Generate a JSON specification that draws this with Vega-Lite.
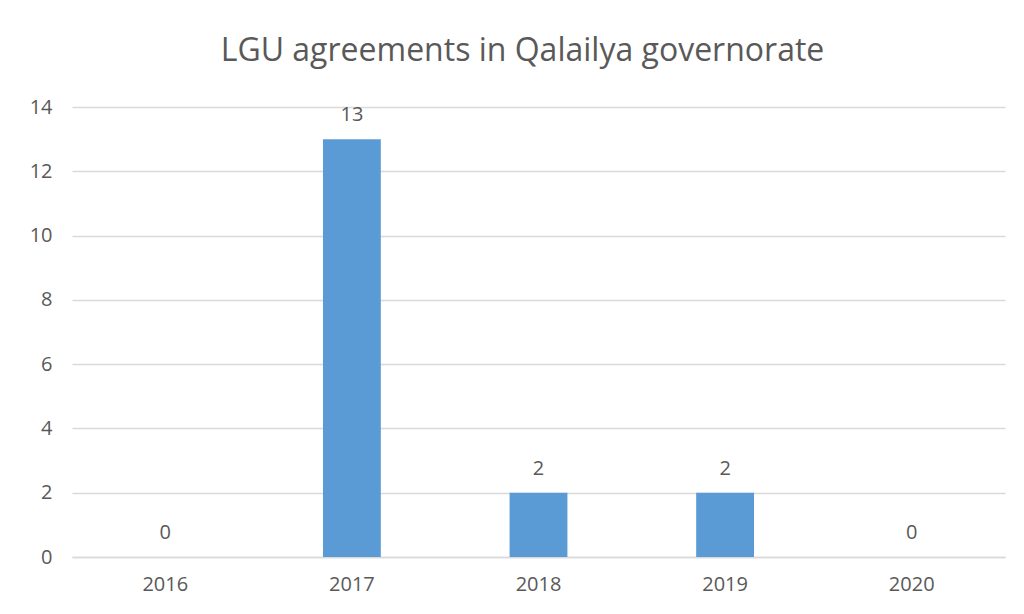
{
  "$schema": "https://vega.github.io/schema/vega-lite/v6.json",
  "autosize": "none",
  "width": 933,
  "height": 450,
  "padding": {"left": 72, "top": 107, "right": 19, "bottom": 57},
  "background": "white",
  "title": {
    "text": "LGU agreements in Qalailya governorate",
    "anchor": "middle",
    "fontSize": 32,
    "font": "Open Sans",
    "fontWeight": "normal",
    "color": "#595959",
    "offset": 29,
    "dx": -16
  },
  "data": {
    "values": [
      {"year": "2016", "count": 0},
      {"year": "2017", "count": 13},
      {"year": "2018", "count": 2},
      {"year": "2019", "count": 2},
      {"year": "2020", "count": 0}
    ]
  },
  "encoding": {
    "x": {
      "field": "year", "type": "nominal", "sort": null,
      "scale": {"paddingInner": 0.69, "paddingOuter": 0.345},
      "axis": {"title": null, "labelAngle": 0, "ticks": false, "labelPadding": 17, "labelFontSize": 20, "labelColor": "#595959", "labelFont": "Open Sans", "domainColor": "#D9D9D9", "domainWidth": 1.5, "grid": false}
    },
    "y": {
      "field": "count", "type": "quantitative",
      "scale": {"domain": [0, 14]},
      "axis": {"title": null, "values": [0,2,4,6,8,10,12,14], "ticks": false, "domain": false, "labelPadding": 20, "labelFontSize": 20, "labelColor": "#595959", "labelFont": "Open Sans", "gridColor": "#D9D9D9", "gridWidth": 1.5}
    }
  },
  "layer": [
    {"mark": {"type": "bar", "color": "#5B9BD5"}},
    {"mark": {"type": "text", "dy": -24, "fontSize": 20, "font": "Open Sans", "color": "#595959"},
     "encoding": {"text": {"field": "count", "type": "quantitative"}}}
  ],
  "config": {"view": {"stroke": null}}
}
